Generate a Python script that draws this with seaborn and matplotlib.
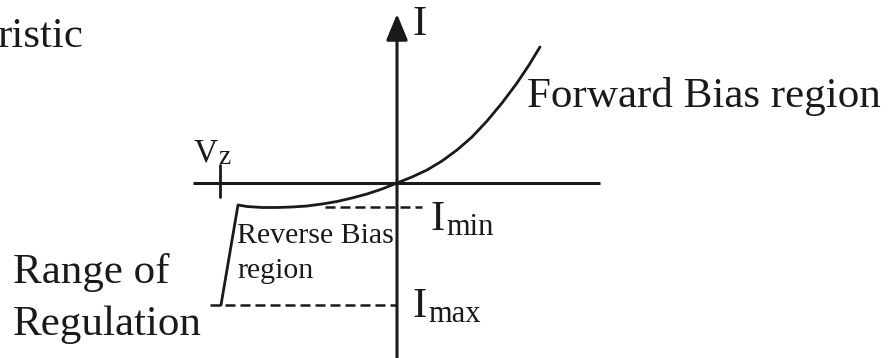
import numpy as np
import matplotlib
matplotlib.use("Agg")
import matplotlib.pyplot as plt
import seaborn as sns

# Zener diode I-V sketch (origin at the axis crossing)
forward_v = [0, 15, 30, 45, 60, 75, 90, 105, 120, 132, 143]
forward_i = [0, 6, 13, 22, 33, 46, 62, 80, 100, 118, 136]

reverse_v = [0, -15, -30, -45, -60, -75, -90, -105, -120, -135, -150, -159, -176]
reverse_i = [0, -6, -11, -15, -18.5, -21, -23, -24, -24.5, -24.5, -23.5, -22, -122]

i_min = -24
i_max = -122
v_z = -176

# reference size in pixels and where the origin sits
W, H = 890, 358
X0, Y0 = 397, 183


def main():
    sns.set_theme(style="white")
    plt.rcParams["font.family"] = ["Liberation Serif", "DejaVu Serif"]

    fig = plt.figure(figsize=(W / 100, H / 100), dpi=100)
    ax = fig.add_axes([0, 0, 1, 1])
    ax.set_xlim(-X0, W - X0)
    ax.set_ylim(Y0 - H, Y0)
    ax.axis("off")

    # horizontal axis and Vz tick
    ax.plot([-204, 203], [0, 0], color="#1a1a1a", lw=2.2, solid_capstyle="butt")
    ax.plot([v_z - 1, v_z - 1], [-14, 18], color="#1a1a1a", lw=2.0)

    # vertical axis with arrow head
    ax.annotate("", xy=(0, 169), xytext=(0, Y0 - H),
                arrowprops=dict(arrowstyle="-|>,head_length=0.8,head_width=0.33",
                                mutation_scale=20, color="#1a1a1a", lw=2.2,
                                shrinkA=0, shrinkB=0))

    # the curves
    sns.lineplot(x=forward_v, y=forward_i, sort=False, color="#1a1a1a",
                 lw=2.0, ax=ax, estimator=None)
    sns.lineplot(x=reverse_v, y=reverse_i, sort=False, color="#1a1a1a",
                 lw=2.0, ax=ax, estimator=None)

    # dashed current levels
    dash = (0, (4.0, 2.0))
    ax.plot([-72, 25], [i_min, i_min], color="#1a1a1a", lw=1.8, linestyle=dash)
    ax.plot([-187, 0], [i_max, i_max], color="#1a1a1a", lw=1.8, linestyle=dash)

    def label(px, py, s, size):
        fig.text(px / W, 1 - py / H, s, fontsize=size, color="#1a1a1a",
                 ha="left", va="baseline")

    label(-3, 47, "ristic", 31)
    label(413, 35, "I", 31)
    label(527, 107, "Forward Bias region", 31)
    label(13, 283, "Range of", 31)
    label(13, 335, "Regulation", 31)
    label(237, 243, "Reverse Bias", 21.5)
    label(237, 278, "region", 21.5)
    label(430, 230, "I", 31)
    label(446, 235, "min", 22)
    label(412, 317, "I", 31)
    label(428, 322, "max", 22)
    label(194, 161, "V", 24)
    label(218, 164, "z", 20)

    fig.savefig("out.png", dpi=100, facecolor="white")


if __name__ == "__main__":
    main()
